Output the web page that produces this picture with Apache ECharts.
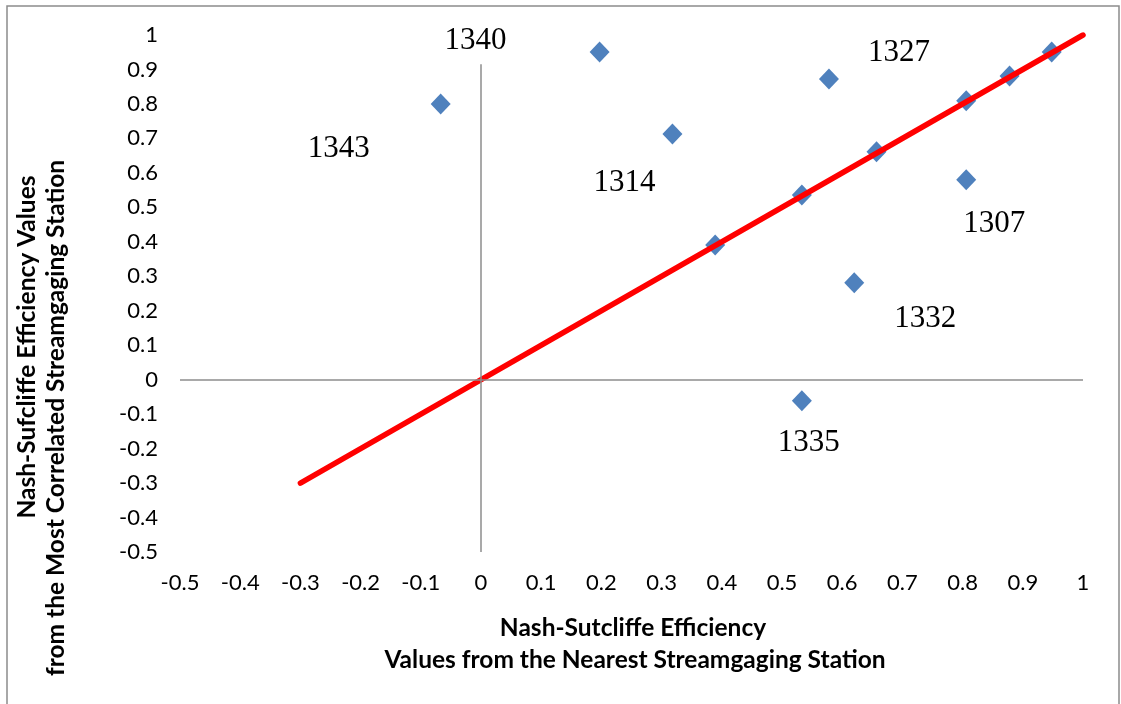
<!DOCTYPE html>
<html>
<head>
<meta charset="utf-8">
<script src="https://cdn.jsdelivr.net/npm/echarts@6/dist/echarts.min.js"></script>
<style>
  html, body { margin: 0; padding: 0; background: #fff; }
  #chart { width: 1121px; height: 704px; }
</style>
</head>
<body>
<div id="chart"></div>
<script>
// Nash-Sutcliffe efficiency: nearest station (x) vs most correlated station (y)
const nearestNSE    = [-0.067, 0.197, 0.318, 0.389, 0.533, 0.578, 0.533, 0.620, 0.657, 0.806, 0.806, 0.878, 0.948];
const correlatedNSE = [ 0.800, 0.951, 0.713, 0.391, 0.536, 0.872, -0.061, 0.281, 0.661, 0.809, 0.580, 0.881, 0.951];
const stationIds    = ['1343', '1340', '1314', '', '', '1327', '1335', '1332', '', '', '1307', '', ''];

// 1:1 reference line
const lineX = [-0.3, 1];
const lineY = [-0.3, 1];

// axis range and tick step
const axisMin = -0.5;
const axisMax = 1;
const axisStep = 0.1;

// the vertical zero line stops below the "1340" label
const zeroLineTop = 0.915;

// label placement (pixel offsets from each marker)
const labelOffsets = {
  '1343': [-102, 45],
  '1340': [-124, -11],
  '1314': [-48, 49],
  '1327': [70, -26],
  '1335': [7, 42],
  '1332': [71, 36],
  '1307': [28, 44]
};

const sansFont = 'Lato, "Open Sans", sans-serif';
const fmt = v => {
  const r = Math.round(v * 10) / 10;
  return r === 0 ? '0' : String(r);
};

const scatterData = nearestNSE.map((x, i) => {
  const id = stationIds[i];
  const item = { value: [x, correlatedNSE[i]] };
  if (id) {
    item.label = {
      show: true,
      formatter: id,
      position: 'inside',
      offset: labelOffsets[id],
      color: '#000',
      fontFamily: '"Liberation Serif", "Times New Roman", serif',
      fontSize: 31
    };
  }
  return item;
});

const chart = echarts.init(document.getElementById('chart'), null, { renderer: 'canvas' });
chart.setOption({
  animation: false,
  backgroundColor: '#fff',
  grid: { left: 180, right: 38, top: 35, bottom: 152, containLabel: false },
  xAxis: {
    type: 'value', min: axisMin, max: axisMax, interval: axisStep,
    axisLine: { show: false },
    axisTick: { show: false },
    splitLine: { show: false },
    axisLabel: { color: '#000', fontFamily: sansFont, fontSize: 22, margin: 20, formatter: fmt }
  },
  yAxis: {
    type: 'value', min: axisMin, max: axisMax, interval: axisStep,
    axisLine: { show: false },
    axisTick: { show: false },
    splitLine: { show: false },
    axisLabel: { color: '#000', fontFamily: sansFont, fontSize: 22, margin: 22, formatter: fmt }
  },
  series: [
    {
      type: 'line',
      z: 1,
      data: [],
      silent: true,
      markLine: {
        silent: true,
        symbol: 'none',
        label: { show: false },
        lineStyle: { color: '#8c8c8c', width: 1.5, type: 'solid' },
        data: [
          [{ coord: [0, axisMin] }, { coord: [0, zeroLineTop] }],
          { yAxis: 0 }
        ]
      }
    },
    {
      type: 'scatter',
      z: 3,
      symbol: 'diamond',
      symbolSize: [20, 21],
      itemStyle: { color: '#4F81BD', opacity: 1 },
      data: scatterData
    },
    {
      type: 'line',
      z: 4,
      symbol: 'none',
      lineStyle: { color: '#FF0000', width: 5.5, cap: 'round' },
      data: lineX.map((x, i) => [x, lineY[i]])
    }
  ],
  graphic: [
    {
      type: 'rect', silent: true,
      shape: { x: 7, y: 6, width: 1112, height: 720 },
      style: { fill: 'none', stroke: '#8c8c8c', lineWidth: 1.5 }
    },
    {
      type: 'text', x: 633, y: 628,
      style: { text: 'Nash-Sutcliffe Efficiency', font: 'bold 24.5px Lato, "Open Sans", sans-serif',
               fill: '#000', align: 'center', verticalAlign: 'middle' }
    },
    {
      type: 'text', x: 635, y: 660,
      style: { text: 'Values from the Nearest Streamgaging Station', font: 'bold 24.5px Lato, "Open Sans", sans-serif',
               fill: '#000', align: 'center', verticalAlign: 'middle' }
    },
    {
      type: 'text', x: 27, y: 347, rotation: Math.PI / 2,
      style: { text: 'Nash-Sufcliffe Efficiency Values', font: 'bold 24.5px Lato, "Open Sans", sans-serif',
               fill: '#000', align: 'center', verticalAlign: 'middle' }
    },
    {
      type: 'text', x: 56, y: 418, rotation: Math.PI / 2,
      style: { text: 'from the Most Correlated Streamgaging Station', font: 'bold 24.5px Lato, "Open Sans", sans-serif',
               fill: '#000', align: 'center', verticalAlign: 'middle' }
    }
  ]
});
</script>
</body>
</html>
